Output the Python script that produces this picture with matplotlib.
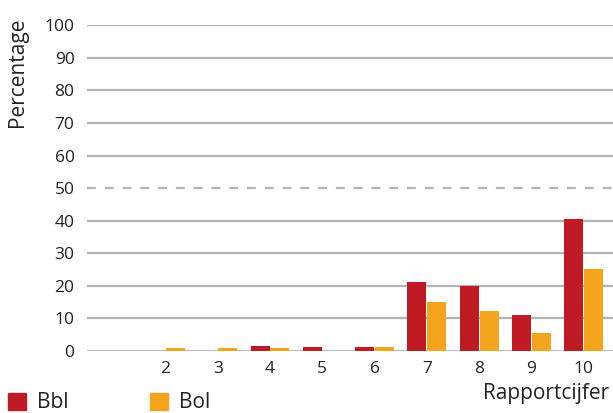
import matplotlib
matplotlib.use("Agg")
from matplotlib import pyplot as plt
from matplotlib.patches import Patch
import numpy as np

plt.rcParams['font.family'] = ['Open Sans', 'DejaVu Sans']

cijfers = [1, 2, 3, 4, 5, 6, 7, 8, 9, 10]
labels = ['', '2', '3', '4', '5', '6', '7', '8', '9', '10']
bbl = [0, 0, 0, 1.5, 1.2, 1.2, 21.1, 20.0, 11.1, 40.5]
bol = [0.1, 1.0, 1.0, 1.0, 0, 1.3, 15.1, 12.3, 5.5, 25.2]

red = '#C01B24'
orange = '#F5A41E'
grey = '#b3b3b3'
txt = '#222222'

fig = plt.figure(figsize=(6.13, 4.13), dpi=100)
ax = fig.add_axes([0.142, 0.15, 0.858, 0.789])

x = np.array(cijfers)
w = 0.363
ax.bar(x - 0.19, bbl, w, color=red, zorder=3)
ax.bar(x + 0.19, bol, w, color=orange, zorder=3)

for v in range(0, 101, 10):
    ax.axhline(v, color=grey, lw=1.6 if v else 2, zorder=1,
               ls=(0, (4, 4)) if v == 50 else '-')

ax.set_xlim(0.5, 10.56)
ax.set_ylim(0, 100)
ax.set_yticks(range(0, 101, 10))
ax.set_xticks(x)
ax.set_xticklabels(labels)
ax.tick_params(length=0, labelsize=12.5, colors=txt)
ax.tick_params(axis='y', pad=9)
ax.tick_params(axis='x', pad=7)
for s in ax.spines.values():
    s.set_visible(False)

ax.set_ylabel('Percentage', fontsize=15, color=txt)
ax.yaxis.set_label_coords(-0.112, 0.855)
fig.text(0.994, 0.047, 'Rapportcijfer', fontsize=15, color=txt, ha='right', va='center')

fig.legend(handles=[Patch(color=red, label='Bbl'), Patch(color=orange, label='Bol')],
           loc='center left', bbox_to_anchor=(8 / 613, 10 / 413), ncol=2, frameon=False,
           fontsize=15, handlelength=0.87, handleheight=0.87, handletextpad=0.5,
           columnspacing=3.95, labelcolor=txt, borderpad=0, borderaxespad=0)

fig.savefig('out.png', dpi=100)
